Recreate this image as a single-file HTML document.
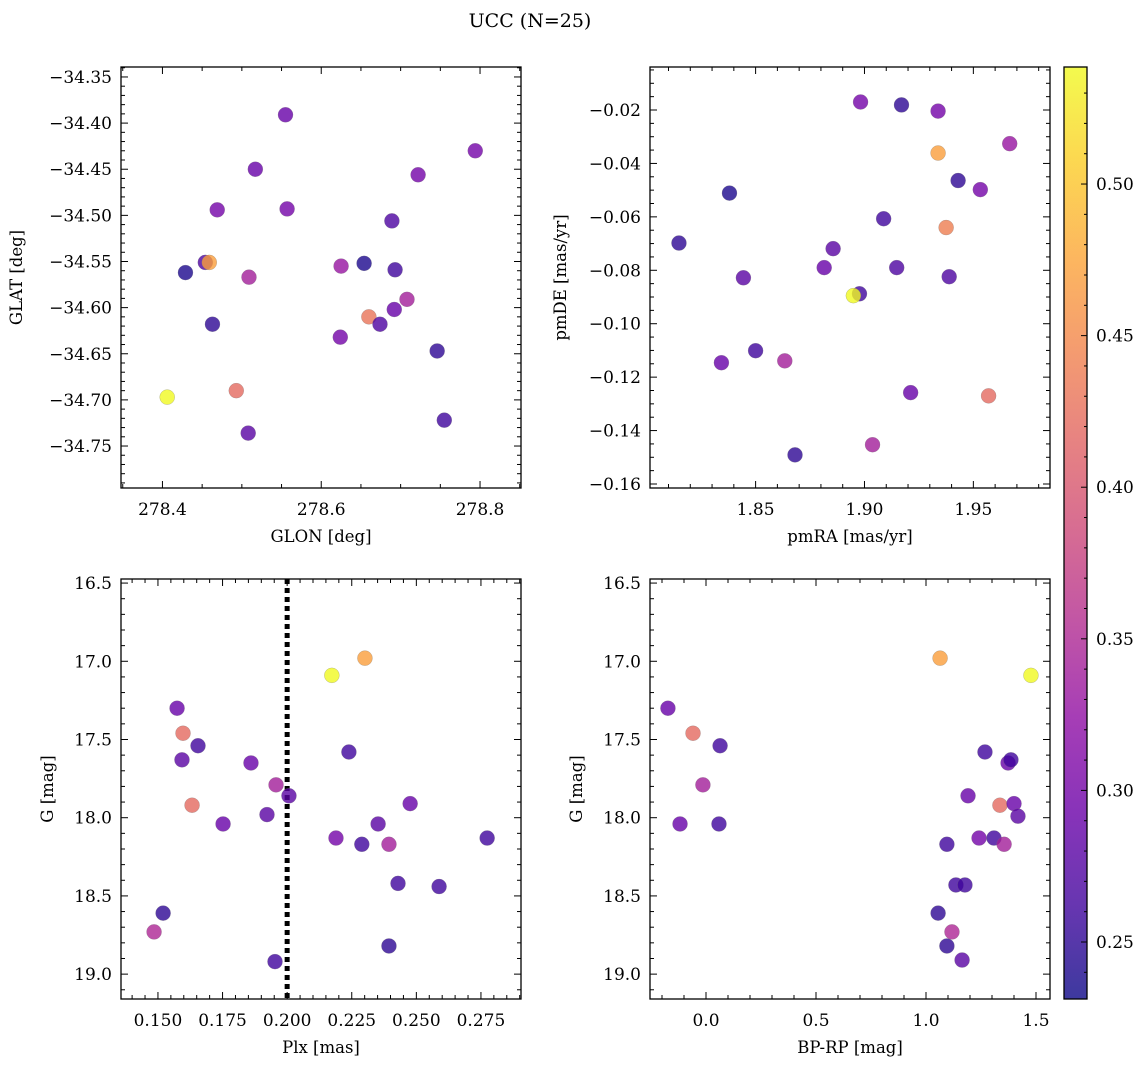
<!DOCTYPE html>
<html><head><meta charset="utf-8"><style>
html,body{margin:0;padding:0;background:#fff;}
svg text{font-family:"DejaVu Serif","Liberation Serif",serif;fill:#000;}
</style></head><body>
<svg id="fig" width="1148" height="1067" xmlns="http://www.w3.org/2000/svg">
<defs><linearGradient id="cmap" x1="0" y1="1" x2="0" y2="0">
<stop offset="0" stop-color="#0d0887"/><stop offset="0.1" stop-color="#41049d"/><stop offset="0.2" stop-color="#6a00a8"/><stop offset="0.3" stop-color="#8f0da4"/><stop offset="0.4" stop-color="#b12a90"/><stop offset="0.5" stop-color="#cc4778"/><stop offset="0.6" stop-color="#e16462"/><stop offset="0.7" stop-color="#f2844b"/><stop offset="0.8" stop-color="#fca636"/><stop offset="0.9" stop-color="#fcce25"/><stop offset="1" stop-color="#f0f921"/>
</linearGradient></defs>
<text x="530" y="27" text-anchor="middle" font-size="19">UCC (N=25)</text>
</svg>
<script>
// Panel 1: GLON / GLAT
const p1x=[278.406,278.429,278.454,278.459,278.463,278.469,278.493,278.508,278.509,278.517,278.555,278.557,278.624,278.625,278.654,278.660,278.674,278.689,278.693,278.692,278.708,278.722,278.746,278.755,278.794];
const p1y=[-34.697,-34.562,-34.551,-34.551,-34.618,-34.494,-34.690,-34.736,-34.567,-34.450,-34.391,-34.493,-34.632,-34.555,-34.552,-34.610,-34.618,-34.506,-34.559,-34.602,-34.591,-34.456,-34.647,-34.722,-34.430];
const p1c=[0.54,0.24,0.27,0.47,0.25,0.30,0.42,0.28,0.34,0.29,0.29,0.30,0.30,0.33,0.24,0.43,0.27,0.27,0.26,0.29,0.34,0.30,0.25,0.26,0.30];
// Panel 2: pmRA / pmDE
const p2x=[1.8148,1.838,1.8444,1.8343,1.85,1.8634,1.8815,1.8856,1.8977,1.8949,1.8982,1.9037,1.9088,1.9148,1.917,1.9212,1.9338,1.9338,1.9375,1.9389,1.943,1.9532,1.9667,1.957,1.8681];
const p2y=[-0.0698,-0.0511,-0.0828,-0.1146,-0.1101,-0.1139,-0.079,-0.0719,-0.0888,-0.0895,-0.017,-0.1453,-0.0607,-0.079,-0.0181,-0.1258,-0.0204,-0.0361,-0.064,-0.0824,-0.0464,-0.0498,-0.0326,-0.127,-0.1491];
const p2c=[0.25,0.24,0.28,0.29,0.26,0.34,0.29,0.28,0.26,0.54,0.30,0.34,0.26,0.27,0.25,0.29,0.30,0.47,0.44,0.27,0.25,0.30,0.33,0.42,0.25];
// Panel 3: Plx / G
const p3x=[0.1485,0.152,0.1574,0.1597,0.1593,0.1632,0.1655,0.1752,0.186,0.1922,0.1957,0.1953,0.2007,0.2173,0.2189,0.2239,0.2289,0.2301,0.2352,0.2394,0.2394,0.2429,0.2476,0.2588,0.2774];
const p3y=[18.73,18.61,17.30,17.46,17.63,17.92,17.54,18.04,17.65,17.98,17.79,18.92,17.86,17.09,18.13,17.58,18.17,16.98,18.04,18.17,18.82,18.42,17.91,18.44,18.13];
const p3c=[0.35,0.25,0.29,0.42,0.28,0.42,0.26,0.29,0.29,0.28,0.34,0.26,0.28,0.54,0.30,0.26,0.26,0.47,0.28,0.34,0.25,0.26,0.29,0.26,0.26];
// Panel 4: BP-RP / G
const p4x=[-0.173,-0.118,-0.059,-0.014,0.059,0.064,1.055,1.095,1.095,1.118,1.136,1.164,1.177,1.191,1.241,1.268,1.309,1.336,1.355,1.373,1.386,1.400,1.418,1.477,1.064];
const p4y=[17.30,18.04,17.46,17.79,18.04,17.54,18.61,18.82,18.17,18.73,18.43,18.91,18.43,17.86,18.13,17.58,18.13,17.92,18.17,17.65,17.63,17.91,17.99,17.09,16.98];
const p4c=[0.29,0.29,0.42,0.34,0.26,0.26,0.25,0.25,0.26,0.35,0.26,0.28,0.26,0.29,0.30,0.26,0.26,0.42,0.34,0.29,0.26,0.29,0.28,0.54,0.47];
// Colorbar ticks
const cbTicks=[0.25,0.30,0.35,0.40,0.45,0.50];
const CMIN=0.2312,CMAX=0.5386;

const NS='http://www.w3.org/2000/svg';
const svg=document.getElementById('fig');
function mk(tag,attrs,parent){const e=document.createElementNS(NS,tag);for(const k in attrs)e.setAttribute(k,attrs[k]);(parent||svg).appendChild(e);return e;}
const stops=[[13,8,135],[65,4,157],[106,0,168],[143,13,164],[177,42,144],[204,71,120],[225,100,98],[242,132,75],[252,166,54],[252,206,37],[240,249,33]];
function plasma(v){let t=(v-CMIN)/(CMAX-CMIN);t=Math.max(0,Math.min(1,t))*10;const i=Math.min(9,Math.floor(t)),f=t-i;const a=stops[i],b=stops[i+1];return 'rgb('+a.map((c,j)=>Math.round(c+(b[j]-c)*f)).join(',')+')';}

function panel(o){
  const g=mk('g',{});
  
  
  const sx=v=>o.L+(v-o.x0)/(o.x1-o.x0)*(o.R-o.L);
  const sy=v=>o.B-(v-o.y0)/(o.y1-o.y0)*(o.B-o.T);
  if(o.vline!==undefined){const l=mk('line',{x1:sx(o.vline),x2:sx(o.vline),y1:o.T,y2:o.B,stroke:'#000','stroke-width':5,'stroke-dasharray':'5,4'},g);
    }
  for(let i=0;i<o.xs.length;i++){
    const c=mk('circle',{cx:sx(o.xs[i]),cy:sy(o.ys[i]),r:7.5,fill:plasma(o.cs[i]),'fill-opacity':0.8,stroke:'#777','stroke-width':0.4,'stroke-opacity':0.6},g);
    
    
  }
  const fr=mk('rect',{x:o.L,y:o.T,width:o.R-o.L,height:o.B-o.T,fill:'none',stroke:'#000','stroke-width':1.3},g);
  
  const eps=1e-9;
  const xa=Math.min(o.x0,o.x1),xb=Math.max(o.x0,o.x1),ya=Math.min(o.y0,o.y1),yb=Math.max(o.y0,o.y1);
  for(let k=Math.ceil(xa/o.xmin-eps);k*o.xmin<=xb+eps;k++){
    const v=k*o.xmin;
    const major=Math.abs(v/o.xmaj-Math.round(v/o.xmaj))<1e-4, len=major?7:4, x=sx(v);
    mk('line',{x1:x,x2:x,y1:o.B,y2:o.B-len,stroke:'#000','stroke-width':1},g);
    mk('line',{x1:x,x2:x,y1:o.T,y2:o.T+len,stroke:'#000','stroke-width':1},g);
    if(major){const t=mk('text',{x:x,y:o.B+27,'text-anchor':'middle','font-size':17},g);t.textContent=o.xfmt(v);
      }
  }
  for(let k=Math.ceil(ya/o.ymin-eps);k*o.ymin<=yb+eps;k++){
    const v=k*o.ymin;
    const major=Math.abs(v/o.ymaj-Math.round(v/o.ymaj))<1e-4, len=major?7:4, y=sy(v);
    mk('line',{x1:o.L,x2:o.L+len,y1:y,y2:y,stroke:'#000','stroke-width':1},g);
    mk('line',{x1:o.R,x2:o.R-len,y1:y,y2:y,stroke:'#000','stroke-width':1},g);
    if(major){const t=mk('text',{x:o.L-9,y:y+6,'text-anchor':'end','font-size':17},g);t.textContent=o.yfmt(v);
      }
  }
  const xl=mk('text',{x:(o.L+o.R)/2,y:o.B+54,'text-anchor':'middle','font-size':16.5},g);xl.textContent=o.xlabel;
  
  const yx=o.L-o.ylabOff, yy=(o.T+o.B)/2;
  const yl=mk('text',{x:yx,y:yy,'text-anchor':'middle','font-size':16.5,transform:'rotate(-90 '+yx+' '+yy+')'},g);yl.textContent=o.ylabel;
  
}
const neg=s=>s.replace('-','\u2212');
panel({name:'glon-glat-panel',L:121,R:521,T:67,B:488,x0:278.3478,x1:278.8516,y0:-34.7955,y1:-34.3392,xmaj:0.2,xmin:0.05,ymaj:0.05,ymin:0.01,
  xfmt:v=>v.toFixed(1),yfmt:v=>neg(v.toFixed(2)),xlabel:'GLON [deg]',ylabel:'GLAT [deg]',ylabOff:99,xs:p1x,ys:p1y,cs:p1c});
panel({name:'pm-panel',L:650,R:1050,T:67,B:488,x0:1.8015,x1:1.9852,y0:-0.1615,y1:-0.0039,xmaj:0.05,xmin:0.01,ymaj:0.02,ymin:0.005,
  xfmt:v=>v.toFixed(2),yfmt:v=>neg(v.toFixed(2)),xlabel:'pmRA [mas/yr]',ylabel:'pmDE [mas/yr]',ylabOff:84,xs:p2x,ys:p2y,cs:p2c});
panel({name:'plx-g-panel',L:121,R:521,T:579,B:999,x0:0.1357,x1:0.2905,y0:19.159,y1:16.474,xmaj:0.025,xmin:0.005,ymaj:0.5,ymin:0.1,
  xfmt:v=>v.toFixed(3),yfmt:v=>v.toFixed(1),xlabel:'Plx [mas]',ylabel:'G [mag]',ylabOff:68,xs:p3x,ys:p3y,cs:p3c,vline:0.2});
panel({name:'color-g-panel',L:650,R:1050,T:579,B:999,x0:-0.2545,x1:1.5636,y0:19.159,y1:16.474,xmaj:0.5,xmin:0.1,ymaj:0.5,ymin:0.1,
  xfmt:v=>v.toFixed(1),yfmt:v=>v.toFixed(1),xlabel:'BP-RP [mag]',ylabel:'G [mag]',ylabOff:68,xs:p4x,ys:p4y,cs:p4c});
(function(){
  const L=1064,R=1087,T=67,B=999;
  const g=mk('g',{});
  
  
  mk('rect',{x:L,y:T,width:R-L,height:B-T,fill:'url(#cmap)','fill-opacity':0.8},g);
  mk('rect',{x:L,y:T,width:R-L,height:B-T,fill:'none',stroke:'#000','stroke-width':1.3},g);
  const sy=v=>B-(v-CMIN)/(CMAX-CMIN)*(B-T);
  for(let k=24;k*0.01<=CMAX+1e-9;k++){const v=k*0.01,y=sy(v);const maj=k%5===0;
    mk('line',{x1:R,x2:R-(maj?6:3),y1:y,y2:y,stroke:'#000','stroke-width':1},g);}
  cbTicks.forEach(v=>{const t=mk('text',{x:R+9,y:sy(v)+6,'font-size':17},g);t.textContent=v.toFixed(2);
    });
})();
</script>
</body></html>
